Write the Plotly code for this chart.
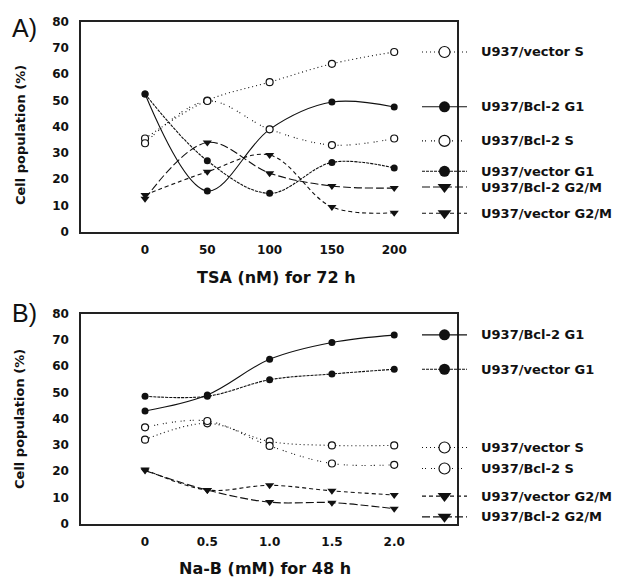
import plotly.graph_objects as go

# ---------------- data ----------------
tsa_dose = [0, 50, 100, 150, 200]
tsa_ticktext = ["0", "50", "100", "150", "200"]
A_vector_S = [35.5, 50.0, 57.0, 64.0, 68.5]
A_bcl2_G1 = [52.5, 15.5, 39.0, 49.4, 47.5]
A_bcl2_S = [33.7, 49.8, 39.0, 33.0, 35.5]
A_vector_G1 = [52.5, 27.0, 14.6, 26.4, 24.3]
A_bcl2_G2M = [12.5, 34.0, 22.3, 17.4, 16.6]
A_vector_G2M = [14.0, 22.8, 29.2, 9.4, 7.2]

nab_dose = [0, 0.5, 1.0, 1.5, 2.0]
nab_ticktext = ["0", "0.5", "1.0", "1.5", "2.0"]
B_bcl2_G1 = [42.9, 49.0, 62.6, 69.0, 71.8]
B_vector_G1 = [48.5, 48.5, 54.8, 57.0, 58.8]
B_vector_S = [32.0, 38.2, 31.3, 29.8, 29.8]
B_bcl2_S = [36.7, 39.1, 29.6, 22.9, 22.4]
B_vector_G2M = [20.6, 12.8, 14.6, 12.5, 10.9]
B_bcl2_G2M = [20.2, 12.8, 8.2, 8.0, 5.7]

y_ticks = [0, 10, 20, 30, 40, 50, 60, 70, 80]

# legend label vertical positions (layout)
A_legend = [("U937/vector S", 68.5), ("U937/Bcl-2 G1", 47.6), ("U937/Bcl-2 S", 34.6),
            ("U937/vector G1", 23.0), ("U937/Bcl-2 G2/M", 17.0), ("U937/vector G2/M", 7.0)]
B_legend = [("U937/Bcl-2 G1", 71.9), ("U937/vector G1", 58.8), ("U937/vector S", 29.0),
            ("U937/Bcl-2 S", 21.0), ("U937/vector G2/M", 10.5), ("U937/Bcl-2 G2/M", 2.6)]

INK = "#111111"
styles = {
    "U937/vector S": dict(dash="1px,3px", symbol="circle-open", size=7),
    "U937/Bcl-2 S": dict(dash="1px,2px,1px,5px", symbol="circle-open", size=7),
    "U937/Bcl-2 G1": dict(dash="solid", symbol="circle", size=7),
    "U937/vector G1": dict(dash="3px,1px", symbol="circle", size=7),
    "U937/Bcl-2 G2/M": dict(dash="8px,3px", symbol="triangle-down", size=8),
    "U937/vector G2/M": dict(dash="4px,3px", symbol="triangle-down", size=8),
}

panelA = [("U937/Bcl-2 G1", A_bcl2_G1), ("U937/vector G1", A_vector_G1),
          ("U937/Bcl-2 G2/M", A_bcl2_G2M), ("U937/vector G2/M", A_vector_G2M),
          ("U937/vector S", A_vector_S), ("U937/Bcl-2 S", A_bcl2_S)]
panelB = [("U937/Bcl-2 G1", B_bcl2_G1), ("U937/vector G1", B_vector_G1),
          ("U937/vector G2/M", B_vector_G2M), ("U937/Bcl-2 G2/M", B_bcl2_G2M),
          ("U937/vector S", B_vector_S), ("U937/Bcl-2 S", B_bcl2_S)]

# page is 622x585; the html body adds an 8px margin, so the figure is drawn
# 8px in from the top-left corner.
OFF = 8
W, H = 622 - OFF, 585 - OFF


def px(x):
    return (x - OFF) / W


def py(y):
    return 1 - (y - OFF) / H


fig = go.Figure()


def marker(st, size):
    if st["symbol"] == "circle-open":
        return dict(symbol="circle", size=size, color="white", line=dict(color=INK, width=1.2))
    return dict(symbol=st["symbol"], size=size, color=INK, line=dict(color=INK, width=0))


def add_panel(xvals, series, xa, ya, lxa, legend):
    for name, vals in series:
        st = styles[name]
        fig.add_trace(go.Scatter(
            x=xvals, y=vals, xaxis=xa, yaxis=ya, mode="lines+markers", name=name,
            line=dict(color=INK, width=1.1, dash=st["dash"], shape="spline", smoothing=1.0),
            marker=marker(st, st["size"]), showlegend=False, cliponaxis=False))
    for name, ly in legend:
        st = styles[name]
        fig.add_trace(go.Scatter(
            x=[-1, 1], y=[ly, ly], xaxis=lxa, yaxis=ya, mode="lines",
            line=dict(color=INK, width=1.1, dash=st["dash"]),
            showlegend=False, hoverinfo="skip"))
        fig.add_trace(go.Scatter(
            x=[0], y=[ly], xaxis=lxa, yaxis=ya, mode="markers",
            marker=marker(st, st["size"] + 4), showlegend=False, cliponaxis=False))
        fig.add_annotation(x=px(479), xref="paper", y=ly, yref=ya, text=name,
                           showarrow=False, xanchor="left", yanchor="middle",
                           font=dict(family="DejaVu Sans", size=13, color=INK, weight="bold"))


add_panel(tsa_dose, panelA, "x", "y", "x3", A_legend)
add_panel(nab_dose, panelB, "x2", "y2", "x4", B_legend)

xdom = [px(81), px(457)]
ydomA = [py(230), py(15)]
ydomB = [py(529.3), py(314)]
legdom = [px(422), px(467)]

tickfont = dict(family="DejaVu Sans", size=12, color=INK, weight="bold")
axstyle = dict(showline=True, mirror=True, linewidth=1.5, linecolor="#222222",
               showgrid=False, zeroline=False, ticks="", tickfont=tickfont)

fig.update_layout(
    width=W, height=H, margin=dict(l=0, r=0, t=0, b=0),
    paper_bgcolor="white", plot_bgcolor="rgba(0,0,0,0)",
    xaxis=dict(domain=xdom, anchor="y", range=[-51.4, 250.4], tickvals=tsa_dose,
               ticktext=tsa_ticktext, ticklabelstandoff=6, **axstyle),
    yaxis=dict(domain=ydomA, anchor="x", range=[0, 80], tickvals=y_ticks,
               ticklabelstandoff=8, **axstyle),
    xaxis2=dict(domain=xdom, anchor="y2", range=[-0.514, 2.504], tickvals=nab_dose,
                ticktext=nab_ticktext, ticklabelstandoff=6, **axstyle),
    yaxis2=dict(domain=ydomB, anchor="x2", range=[0, 80], tickvals=y_ticks,
                ticklabelstandoff=8, **axstyle),
    xaxis3=dict(domain=legdom, anchor="y", range=[-1, 1], visible=False),
    xaxis4=dict(domain=legdom, anchor="y2", range=[-1, 1], visible=False),
)

titlefont = dict(family="DejaVu Sans", size=16, color=INK, weight="bold")
yfont = dict(family="DejaVu Sans", size=13, color=INK, weight="bold")
panelfont = dict(family="Liberation Sans", size=25, color=INK)

fig.add_annotation(x=px(276.5), y=py(277), xref="paper", yref="paper", text="TSA (nM) for 72 h",
                   showarrow=False, xanchor="center", yanchor="middle", font=titlefont)
fig.add_annotation(x=px(264.5), y=py(575), xref="paper", yref="paper", text="Na-B (mM) for 48 h",
                   showarrow=False, xanchor="center", yanchor="middle", font=titlefont)
fig.add_annotation(x=px(20), y=py(131), xref="paper", yref="paper", text="Cell population (%)",
                   textangle=-90, showarrow=False, xanchor="center", yanchor="middle", font=yfont)
fig.add_annotation(x=px(20), y=py(422), xref="paper", yref="paper", text="Cell population (%)",
                   textangle=-90, showarrow=False, xanchor="center", yanchor="middle", font=yfont)
fig.add_annotation(x=px(10), y=py(21), xref="paper", yref="paper", text="A)",
                   showarrow=False, xanchor="left", yanchor="middle", font=panelfont)
fig.add_annotation(x=px(10), y=py(313), xref="paper", yref="paper", text="B)",
                   showarrow=False, xanchor="left", yanchor="middle", font=panelfont)

fig.write_html("out.html")
